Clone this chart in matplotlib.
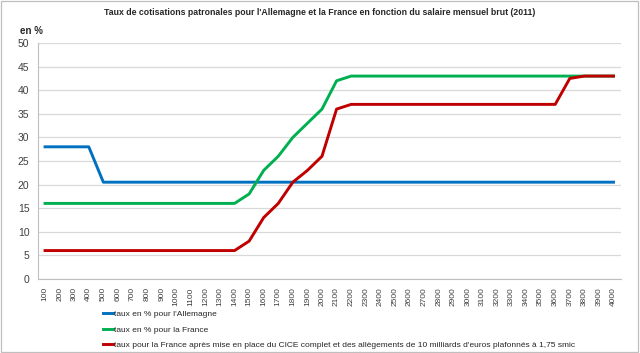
import matplotlib.pyplot as plt
from matplotlib.patches import Rectangle

plt.rcParams['font.family'] = ['Liberation Sans', 'DejaVu Sans']

# Salaire mensuel brut (categories)
salaires = [str(s) for s in range(100, 4100, 100)]

allemagne = [28, 28, 28, 28] + [20.5] * 36
france = [16] * 14 + [18, 23, 26, 30, 33, 36, 42] + [43] * 19
france_cice = [6] * 14 + [8, 13, 16, 20.5, 23, 26, 36] + [37] * 15 + [42.5, 43, 43, 43]

labels = [
    "taux en % pour l'Allemagne",
    "taux en % pour la France",
    "taux pour la France après mise en place du CICE complet et des allègements de 10 milliards d'euros plafonnés à 1,75 smic",
]
colors = ["#0070C0", "#00B050", "#C00000"]

fig = plt.figure(figsize=(6.4, 3.53), dpi=100)
ax = fig.add_axes([0.059, 0.21, 0.911, 0.668])

x = range(len(salaires))
for y, c, lab in zip([allemagne, france, france_cice], colors, labels):
    ax.plot(x, y, color=c, lw=2.1, label=lab, solid_joinstyle='round')

ax.set_xlim(-0.5, len(salaires) - 0.5)
ax.set_ylim(0, 50)
ax.set_yticks(range(0, 55, 5))
ax.set_xticks(list(x))
ax.set_xticklabels(salaires, rotation=90, fontsize=6.0, color='#404040')
ax.tick_params(axis='y', labelsize=7.5, colors='#404040', length=0, pad=6)
ax.tick_params(axis='x', length=0, pad=6)
ax.grid(axis='y', color='#D9D9D9', lw=0.9)
ax.set_axisbelow(True)
for s in ['top', 'right']:
    ax.spines[s].set_visible(False)
ax.spines['left'].set_color('#BFBFBF')
ax.spines['bottom'].set_color('#BFBFBF')

fig.text(0.5, 0.965, "Taux de cotisations patronales pour l'Allemagne et la France en fonction du salaire mensuel brut (2011)",
         ha='center', va='center', fontsize=6.3, fontweight='bold', color='#262626')
fig.text(0.031, 0.912, "en %", ha='left', va='center', fontsize=7.0, fontweight='bold', color='#262626')

leg = fig.legend(loc='upper left', bbox_to_anchor=(0.161, 0.122), frameon=False,
                 fontsize=6.0, handlelength=1.2, handletextpad=0.15, labelspacing=0.95,
                 borderaxespad=0, borderpad=0)
for t in leg.get_texts():
    t.set_color('#262626')

fig.patches.append(Rectangle((0.002, 0.003), 0.995, 0.993, transform=fig.transFigure,
                             fill=False, edgecolor='#BFBFBF', lw=0.9))

fig.savefig("out.png", dpi=100)
